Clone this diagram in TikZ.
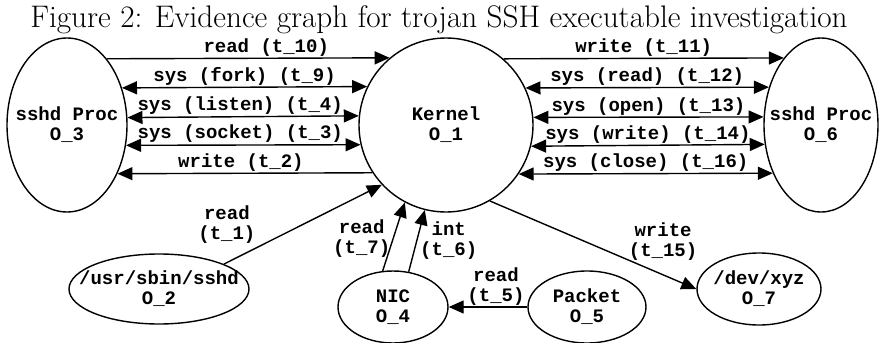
\documentclass[tikz,border=0pt]{standalone}
\usepackage{fontspec}
\setmonofont{Liberation Mono}
\usetikzlibrary{arrows.meta,shapes.geometric}

\begin{document}
\begin{tikzpicture}[
  x=0.5pt, y=-0.5pt,
  >={Triangle[length=7.5pt,width=6.5pt]},
  obj/.style={draw, ellipse, line width=0.7pt, inner sep=0pt},
  txt/.style={font=\ttfamily\bfseries\fontsize{9.5}{10}\selectfont, align=center, inner sep=0pt},
  lbl/.style={txt, midway},
  link/.style={line width=0.7pt}]
\useasboundingbox (0,0) rectangle (879,343);

\node[font=\fontsize{15.6}{18}\selectfont, anchor=base] (title) at (439,27)
  {Figure 2: Evidence graph for trojan SSH executable investigation};

% objects
\node[obj, circle, minimum size=87pt, label={[txt]center:Kernel\\O\_1}] (k) at (446,125) {};
\node[obj, minimum width=60pt, minimum height=87pt, label={[txt]center:sshd Proc\\O\_3}] (o3) at (67,125) {};
\node[obj, minimum width=57pt, minimum height=87pt, label={[txt]center:sshd Proc\\O\_6}] (o6) at (821,125) {};
\node[obj, minimum width=90pt, minimum height=35pt, label={[txt]center:/usr/sbin/sshd\\O\_2}] (o2) at (159,289) {};
\node[obj, minimum width=55pt, minimum height=36pt, label={[txt]center:NIC\\O\_4}] (o4) at (393,307) {};
\node[obj, minimum width=59pt, minimum height=36pt, label={[txt]center:Packet\\O\_5}] (o5) at (587,307) {};
\node[obj, minimum width=62pt, minimum height=36pt, label={[txt]center:/dev/xyz\\O\_7}] (o7) at (759,289) {};

% sshd (O_3) <-> kernel
\draw[link,->] (o3.59.4) -- node[lbl, yshift=5.5pt, xshift=9pt] {read (t\_10)} (k.130.7);
\draw[link,<->] (o3.34.3) -- node[lbl, yshift=5.5pt] {sys (fork) (t\_9)} (k.154.8);
\draw[link,<->] (o3.7.6) -- node[lbl, yshift=5.5pt, xshift=-1.5pt] {sys (listen) (t\_4)} (k.174.7);
\draw[link,<->] (o3.341.1) -- node[lbl, yshift=5.5pt, xshift=-1.5pt] {sys (socket) (t\_3)} (k.193.3);
\draw[link,<-] (o3.316.2) -- node[lbl, yshift=5.5pt, xshift=-2pt] {write (t\_2)} (k.213.5);

% kernel <-> sshd (O_6)
\draw[link,->] (k.49.3) -- node[lbl, yshift=5.5pt] {write (t\_11)} (o6.119.4);
\draw[link,<->] (k.25.2) -- node[lbl, yshift=5.5pt] {sys (read) (t\_12)} (o6.144.4);
\draw[link,<->] (k.5.3) -- node[lbl, yshift=5.5pt] {sys (open) (t\_13)} (o6.172.0);
\draw[link,<->] (k.346.7) -- node[lbl, yshift=5.5pt] {sys (write) (t\_14)} (o6.199.8);
\draw[link,<->] (k.326.5) -- node[lbl, yshift=5.5pt] {sys (close) (t\_16)} (o6.225.3);

% lower part
\draw[link,->] (o2.21.5) -- node[lbl, xshift=-38pt] {read\\(t\_1)} (k.223.6);
\draw[link,->] (o4.106.4) -- node[lbl, xshift=-16pt, yshift=-1pt] {read\\(t\_7)} (k.242.9);
\draw[link,->] (o4.66.2) -- node[lbl, xshift=16pt] {int\\(t\_6)} (k.256.5);
\draw[link,->] (o5) -- node[lbl, xshift=4pt, yshift=10pt] {read\\(t\_5)} (o4);
\draw[link,->] (k.300.4) -- node[lbl, xshift=35pt, yshift=1.5pt] {write\\(t\_15)} (o7.west);
\end{tikzpicture}
\end{document}
